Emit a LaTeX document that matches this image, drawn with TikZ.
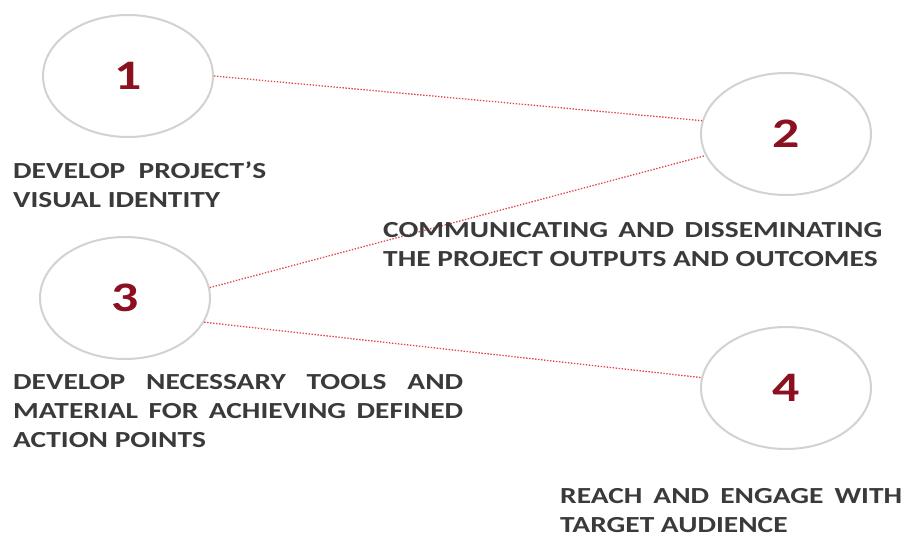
\documentclass[tikz,border=0pt]{standalone}
\usepackage{fontspec}
\setmainfont{Carlito}[FakeStretch=1.28]
\usetikzlibrary{shapes.geometric}

\definecolor{numred}{HTML}{8B1020}
\definecolor{linkred}{HTML}{E0474C}
\definecolor{txtgray}{HTML}{3A3A3A}

\begin{document}
\begin{tikzpicture}[x=1pt, y=-1pt,
    bubble/.style={draw=gray!35, line width=2pt, fill=white, ellipse,
        minimum width=170pt, minimum height=122pt, inner sep=0pt,
        text=numred, font=\fontsize{42}{42}\selectfont\bfseries},
    caption/.style={inner sep=0pt, anchor=north west, align=justify,
        text=txtgray, font=\fontsize{23}{29}\selectfont\bfseries},
    link/.style={draw=linkred, line width=1.3pt, dash pattern=on 1.4pt off 1.6pt}]
        \useasboundingbox (0, 0) rectangle (908, 538);

        \node[bubble] (c1) at (128, 76) {1};
        \node[bubble] (c2) at (786, 134) {2};
        \node[bubble] (c3) at (125, 298) {3};
        \node[bubble] (c4) at (786, 388) {4};

        \draw[link] (c1.east) -- (c2.171);
        \draw[link] (c3.7) -- (c2.195);
        \draw[link] (c3.343) -- (c4.173);

        \node[caption, align=left] (t1) at (13, 162)
            {DEVELOP\ \ PROJECT'S\\VISUAL IDENTITY};
        \node[caption, text width=499pt] (t2) at (383, 222)
            {COMMUNICATING AND DISSEMINATING\linebreak THE PROJECT OUTPUTS AND OUTCOMES};
        \node[caption, text width=450pt] (t3) at (13, 374)
            {DEVELOP NECESSARY TOOLS AND\linebreak MATERIAL FOR ACHIEVING DEFINED\linebreak ACTION POINTS};
        \node[caption, text width=342pt] (t4) at (560, 488)
            {REACH AND ENGAGE WITH\linebreak TARGET AUDIENCE};
    \end{tikzpicture}
\end{document}
